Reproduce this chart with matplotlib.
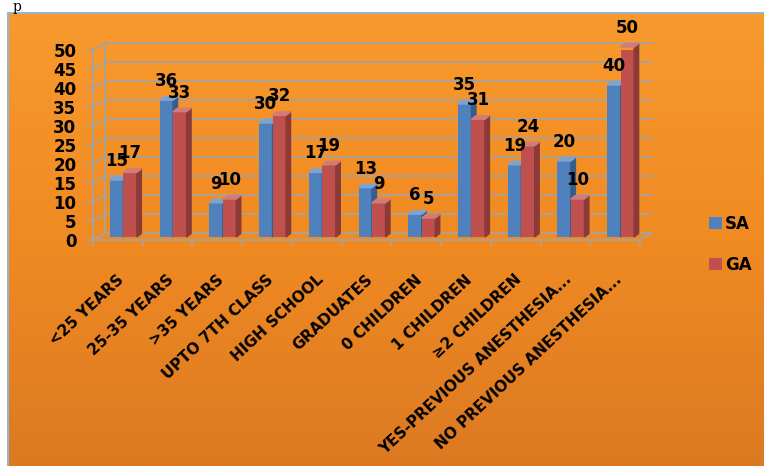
import numpy as np
import matplotlib
matplotlib.use('Agg')
import matplotlib.pyplot as plt
import matplotlib.transforms as mtransforms
from matplotlib.patches import Patch
from matplotlib.colors import LinearSegmentedColormap

# --- datos del gráfico ---
categorias = ['<25 YEARS', '25-35 YEARS', '>35 YEARS', 'UPTO 7TH CLASS',
              'HIGH SCHOOL', 'GRADUATES', '0 CHILDREN', '1 CHILDREN',
              '≥2 CHILDREN', 'YES-PREVIOUS ANESTHESIA...',
              'NO PREVIOUS ANESTHESIA...']
sa = [15, 36, 9, 30, 17, 13, 6, 35, 19, 20, 40]
ga = [17, 33, 10, 32, 19, 9, 5, 31, 24, 10, 50]
series = ['SA', 'GA']
y_ticks = list(range(0, 55, 5))

FIG_W, FIG_H = 764, 466
X0_PX, X1_PX = 93, 640      # borde frontal del piso
Y0_PX, YTOP_PX = 240, 50     # valor 0 y valor 50

fig = plt.figure(figsize=(FIG_W / 100, FIG_H / 100), dpi=100)
fig.patch.set_facecolor('white')

# fondo naranja con degradé
bg = fig.add_axes([8 / FIG_W, 0, 1 - 8 / FIG_W, 1 - 13 / FIG_H])
cmap = LinearSegmentedColormap.from_list('naranja', ['#F89A2E', '#F08A22', '#DC7A22'])
grad = np.linspace(0, 1, 256).reshape(-1, 1)
bg.imshow(grad, aspect='auto', cmap=cmap, extent=[0, 1, 0, 1], origin='upper')
bg.set_xlim(0, 1)
bg.set_ylim(0, 1)
bg.set_xticks([])
bg.set_yticks([])
for lado in ['right', 'bottom']:
    bg.spines[lado].set_visible(False)
for lado in ['left', 'top']:
    bg.spines[lado].set_color('#9DB2CC')
    bg.spines[lado].set_linewidth(1.5)

ax = fig.add_axes([X0_PX / FIG_W, 1 - Y0_PX / FIG_H,
                   (X1_PX - X0_PX) / FIG_W, (Y0_PX - YTOP_PX) / FIG_H])
ax.set_facecolor('none')
n = len(categorias)
ax.set_xlim(-0.5, n - 0.5)
ax.set_ylim(0, 50)

ux = (X1_PX - X0_PX) / n
uy = (Y0_PX - YTOP_PX) / 50.0
def px_x(p):
    return p / ux
def px_y(p):
    return p / uy

# profundidad del "3D"
wdx, wdy = px_x(12), px_y(7)      # pared del fondo
pdx, pdy = px_x(5.5), px_y(3)     # plano de las barras
sdx, sdy = px_x(4.5), px_y(3.5)   # espesor de cada barra
w = px_x(13.5)

color_grid = '#A8A29A'
x0, x1 = -0.5, n - 0.5
for v in y_ticks:
    ax.plot([x0, x0 + wdx, x1 + wdx], [v, v + wdy, v + wdy],
            color=color_grid, lw=1.3, clip_on=False, zorder=1)
    ax.plot([x0 - px_x(5), x0], [v, v], color=color_grid, lw=1.3,
            clip_on=False, zorder=1)
ax.plot([x0, x0], [0, 50], color=color_grid, lw=1.3, clip_on=False, zorder=1)
ax.plot([x0 + wdx, x0 + wdx], [wdy, 50 + wdy], color=color_grid, lw=1.3,
        clip_on=False, zorder=1)
ax.plot([x0, x1, x1 + wdx], [0, 0, wdy], color=color_grid, lw=1.3,
        clip_on=False, zorder=1)
for b in np.arange(n + 1) - 0.5:
    ax.plot([b, b], [0, -px_y(5)], color=color_grid, lw=1.3,
            clip_on=False, zorder=1)

colores = {'SA': ('#4F81BD', '#385D8A', '#7FA3CF'),
           'GA': ('#C0504D', '#8C3A38', '#D27C79')}
xs = np.arange(n)
handles = []
for j, (nombre, valores) in enumerate(zip(series, [sa, ga])):
    frente, lado, tapa = colores[nombre]
    izq = xs + pdx - w + j * w
    barras = ax.bar(izq, valores, width=w, bottom=pdy, align='edge',
                    color=frente, edgecolor='none', zorder=3 + j)
    handles.append(Patch(facecolor=frente, label=nombre))
    for xi, v in zip(izq, valores):
        xr = xi + w
        ax.fill([xr, xr + sdx, xr + sdx, xr],
                [pdy, pdy + sdy, pdy + v + sdy, pdy + v],
                color=lado, zorder=3 + j, clip_on=False)
        ax.fill([xi, xi + sdx, xr + sdx, xr],
                [pdy + v, pdy + v + sdy, pdy + v + sdy, pdy + v],
                color=tapa, zorder=3 + j, clip_on=False)
        ax.annotate(str(v), xy=(xi + w / 2, pdy + v), xytext=(0, 19),
                    textcoords='offset pixels', ha='center', va='center',
                    fontsize=12, fontweight='bold', color='black',
                    zorder=10, annotation_clip=False)

ax.set_yticks(y_ticks)
ax.set_yticklabels([str(v) for v in y_ticks], fontsize=12, fontweight='bold')
ax.tick_params(axis='y', length=0, pad=12)
ax.set_xticks(xs)
ax.set_xticklabels(categorias, rotation=43, ha='right', va='center',
                   rotation_mode='anchor', fontsize=11, fontweight='bold')
ax.tick_params(axis='x', length=0, pad=27)
desplazo = mtransforms.ScaledTranslation(4 / 100, 0, fig.dpi_scale_trans)
for etiqueta in ax.get_xticklabels():
    etiqueta.set_transform(etiqueta.get_transform() + desplazo)
for s in ax.spines.values():
    s.set_visible(False)

fig.legend(handles=handles, loc='upper left',
           bbox_to_anchor=(709 / FIG_W, 1 - 215 / FIG_H), frameon=False,
           prop={'size': 12, 'weight': 'bold'}, handlelength=0.75,
           handleheight=0.75, handletextpad=0.2, labelspacing=1.35,
           borderpad=0, borderaxespad=0)

# fragmento de texto del documento que asoma arriba
fig.text(13 / FIG_W, 1.0, 'p', family='DejaVu Serif',
         fontsize=10, ha='left', va='top')

plt.savefig('out.png', dpi=100)
plt.close()
